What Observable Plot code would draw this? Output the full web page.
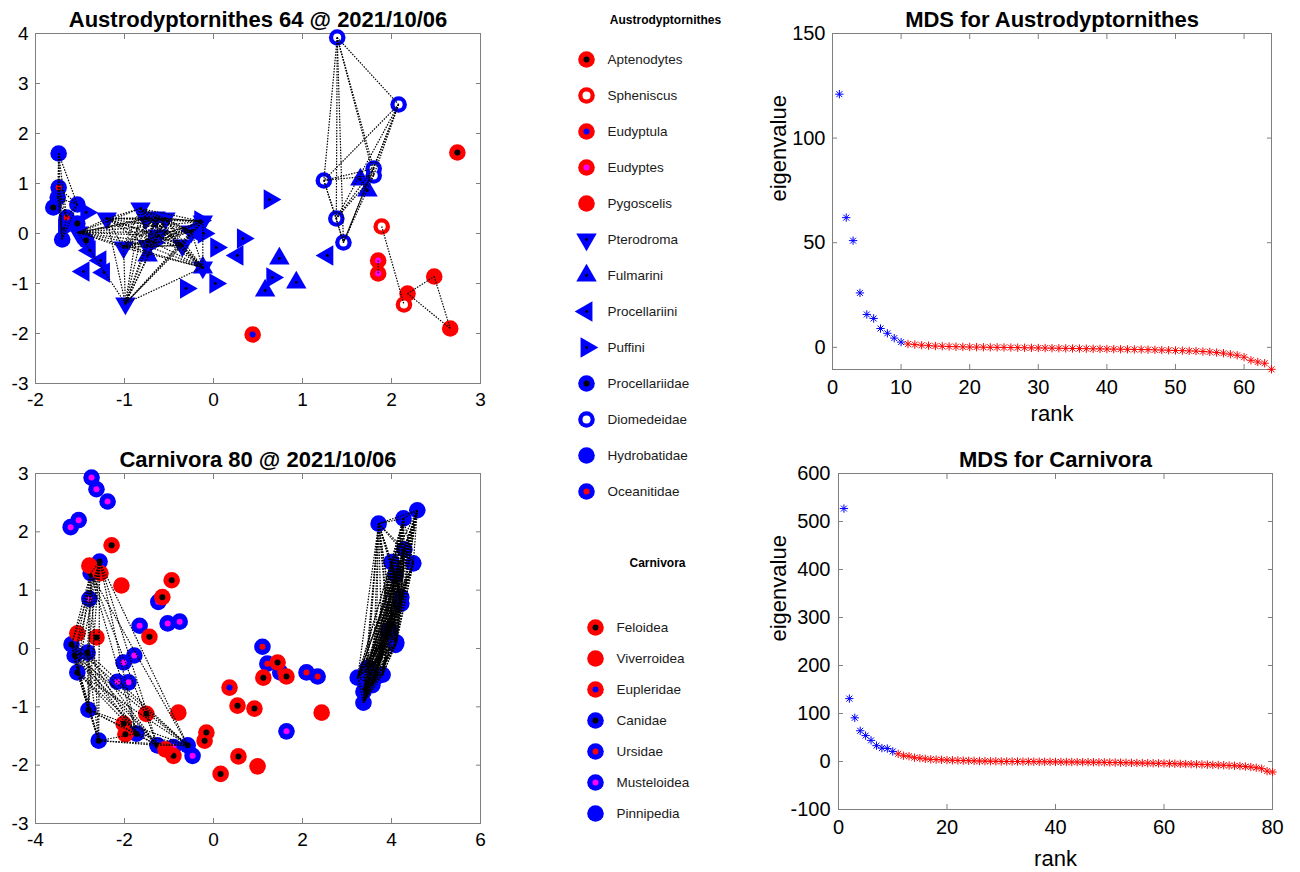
<!DOCTYPE html>
<html><head><meta charset="utf-8">
<script src="https://cdn.jsdelivr.net/npm/d3@7"></script>
<script src="https://cdn.jsdelivr.net/npm/@observablehq/plot@0.6"></script>
<style>
body{margin:0;background:#fff;}
#root{position:relative;width:1300px;height:872px;overflow:hidden;background:#fff;}
#root svg{position:absolute;}
</style></head><body><div id="root"></div>
<script>
// ---------------- DATA ----------------
const birdTaxa = ["Aptenodytes","Spheniscus","Eudyptula","Eudyptes","Pygoscelis","Pterodroma","Fulmarini","Procellariini","Puffini","Procellariidae","Diomedeidae","Hydrobatidae","Oceanitidae"];
const carnTaxa = ["Feloidea","Viverroidea","Eupleridae","Canidae","Ursidae","Musteloidea","Pinnipedia"];

const birdX = [2.74,1.89,2.14,0.44,1.85,1.85,2.18,2.48,2.66,
  1.39,2.08,1.24,1.80,1.80,1.38,1.46,
  1.65,1.73,0.74,0.58,0.93,-0.74,-0.12,
  -1.74,-1.75,-1.70,-1.53,
  -1.74,-1.65,
  -1.80,-1.53,-1.43,
  -1.39,-1.27,-1.46,-1.23,0.27,1.28,-0.24,
  0.63,0.33,0.66,-0.31,0.02,0.03,-0.15,-0.11,-1.43,-1.68,-0.67,
  -1.20,-0.82,-0.76,-0.65,-0.54,-1.01,-0.35,-0.12,-0.99,-0.74,-0.62,-0.25,-1.52,-0.12];
const birdY = [1.62,0.14,-1.42,-2.02,-0.54,-0.80,-1.20,-0.86,-1.90,
  3.92,2.58,1.06,1.30,1.16,0.30,-0.18,
  1.08,0.86,-0.50,-1.14,-0.98,-0.44,-0.68,
  1.60,0.72,-0.12,0.58,
  0.92,0.32,
  0.52,0.20,-0.14,
  -0.34,-0.54,-0.76,-0.78,-0.44,-0.44,0.06,
  0.68,-0.10,-0.88,-1.10,-1.00,-0.28,0.26,0.00,0.42,0.10,-0.18,
  0.30,0.50,0.30,0.32,0.30,-0.28,-0.24,-0.68,-1.40,-0.25,-0.04,0.04,0.02,0.24];
const birdTaxon = ["Aptenodytes","Spheniscus","Spheniscus","Eudyptula","Eudyptes","Eudyptes","Pygoscelis","Pygoscelis","Pygoscelis",
  "Diomedeidae","Diomedeidae","Diomedeidae","Diomedeidae","Diomedeidae","Diomedeidae","Diomedeidae",
  "Fulmarini","Fulmarini","Fulmarini","Fulmarini","Fulmarini","Fulmarini","Fulmarini",
  "Hydrobatidae","Hydrobatidae","Hydrobatidae","Hydrobatidae",
  "Oceanitidae","Oceanitidae",
  "Procellariidae","Procellariidae","Procellariidae",
  "Procellariini","Procellariini","Procellariini","Procellariini","Procellariini","Procellariini","Procellariini",
  "Puffini","Puffini","Puffini","Puffini","Puffini","Puffini","Puffini","Puffini","Puffini","Puffini","Puffini",
  "Pterodroma","Pterodroma","Pterodroma","Pterodroma","Pterodroma","Pterodroma","Pterodroma","Pterodroma","Pterodroma","Pterodroma","Pterodroma","Pterodroma","Pterodroma","Pterodroma"];
const birdLink = [0,1,1,0,2,2,3,3,3,
  4,4,4,4,4,4,4,
  5,5,0,0,0,0,0,
  6,6,6,6,
  6,6,
  0,0,0,
  0,0,0,0,0,0,0,
  0,0,0,0,0,0,0,0,0,0,0,
  7,7,7,7,7,7,7,7,7,7,7,7,7,7];

const carnX = [4.58,4.27,3.71,4.29,4.00,4.49,4.09,4.22,4.22,3.96,4.11,4.09,3.93,3.24,3.46,3.80,3.57,3.37,3.37,3.64,
  -2.56,-2.76,-3.19,-3.12,-2.83,-3.06,-2.81,-1.73,-2.58,-1.26,-0.58,
  1.10,1.21,1.50,2.09,2.34,
  -2.74,-2.63,-2.38,-3.21,-3.03,-1.24,-2.79,-1.66,-1.03,-0.76,-2.02,-1.78,-2.16,-1.91,-0.90,-0.47,1.64,
  -2.29,-0.94,-1.15,-2.63,-1.44,-2.02,-1.98,-1.51,-0.90,-0.16,-0.20,0.16,0.54,0.92,0.56,1.44,1.12,1.64,
  -2.79,-2.54,-2.07,-3.06,-0.79,-1.08,0.99,2.43,
  0.36];
const carnY = [2.37,2.23,2.14,1.70,1.48,1.46,1.27,0.88,0.77,0.31,0.10,0.06,0.28,-0.50,-0.33,-0.45,-0.63,-0.74,-0.93,-0.50,
  1.49,1.29,0.07,-0.12,-0.07,-0.41,-1.05,-1.46,-1.58,-1.66,-1.66,
  0.03,-0.26,-0.41,-0.41,-0.48,
  2.93,2.73,2.52,2.08,2.20,0.80,0.85,0.39,0.43,0.46,-0.24,-0.12,-0.57,-0.58,-1.69,-1.84,-1.42,
  1.77,1.17,0.88,0.19,0.20,-1.29,-1.47,-1.12,-1.84,-1.44,-1.58,-2.15,-0.98,-1.03,-1.85,-0.24,-0.50,-0.48,
  1.42,1.29,1.08,0.26,-1.10,-1.73,-2.02,-1.10,
  -0.67];
const carnTaxon = ["Pinnipedia","Pinnipedia","Pinnipedia","Pinnipedia","Pinnipedia","Pinnipedia","Pinnipedia","Pinnipedia","Pinnipedia","Pinnipedia","Pinnipedia","Pinnipedia","Pinnipedia","Pinnipedia","Pinnipedia","Pinnipedia","Pinnipedia","Pinnipedia","Pinnipedia","Pinnipedia",
  "Canidae","Canidae","Canidae","Canidae","Canidae","Canidae","Canidae","Canidae","Canidae","Canidae","Canidae",
  "Ursidae","Ursidae","Ursidae","Ursidae","Ursidae",
  "Musteloidea","Musteloidea","Musteloidea","Musteloidea","Musteloidea","Musteloidea","Musteloidea","Musteloidea","Musteloidea","Musteloidea","Musteloidea","Musteloidea","Musteloidea","Musteloidea","Musteloidea","Musteloidea","Musteloidea",
  "Feloidea","Feloidea","Feloidea","Feloidea","Feloidea","Feloidea","Feloidea","Feloidea","Feloidea","Feloidea","Feloidea","Feloidea","Feloidea","Feloidea","Feloidea","Feloidea","Feloidea","Feloidea",
  "Viverroidea","Viverroidea","Viverroidea","Viverroidea","Viverroidea","Viverroidea","Viverroidea","Viverroidea",
  "Eupleridae"];
const carnLink = [1,1,1,1,1,1,1,1,1,1,1,1,1,1,1,1,1,1,1,1,
  2,2,2,2,2,2,2,2,2,2,2,
  0,0,0,0,0,
  0,0,0,0,0,0,0,0,0,0,0,0,0,0,0,0,0,
  0,0,0,0,0,0,0,0,0,0,0,0,0,0,0,0,0,0,
  0,0,0,0,0,0,0,0,
  0];

const austroEig = [121,62,51,26,15.7,13.8,9,6.7,4.4,2.5,
  1.6,1.3,1.0,0.8,0.6,0.5,0.4,0.3,0.2,0.15,
  0.1,0.05,0,0,-0.05,-0.1,-0.15,-0.2,-0.25,-0.3,
  -0.35,-0.4,-0.45,-0.5,-0.55,-0.6,-0.65,-0.7,-0.75,-0.8,
  -0.85,-0.9,-0.95,-1.0,-1.05,-1.1,-1.2,-1.3,-1.4,-1.5,
  -1.6,-1.7,-1.8,-2.0,-2.2,-2.5,-2.8,-3.3,-3.8,-4.7,
  -6.2,-7.0,-7.6,-10.5];
const carnEig = [527,131,91,64,54,44,33,28,27,21,
  16,12,11,8,7,5.5,4.5,4,3.5,3,
  2.6,2.2,1.9,1.6,1.3,1,0.8,0.6,0.4,0.2,
  0.1,0,-0.1,-0.2,-0.3,-0.4,-0.5,-0.6,-0.7,-0.8,
  -0.9,-1.0,-1.1,-1.2,-1.3,-1.4,-1.5,-1.6,-1.8,-2.0,
  -2.2,-2.4,-2.6,-2.8,-3.0,-3.2,-3.4,-3.6,-3.8,-4.0,
  -4.3,-4.6,-4.9,-5.2,-5.5,-5.8,-6.2,-6.6,-7.0,-7.4,
  -7.8,-8.3,-8.9,-9.6,-10.5,-11.6,-13,-15,-20,-22];

const birdXTicks = [-2,-1,0,1,2,3], birdYTicks = [-3,-2,-1,0,1,2,3,4];
const carnXTicks = [-4,-2,0,2,4,6], carnYTicks = [-3,-2,-1,0,1,2,3];
const austroRankTicks = [0,10,20,30,40,50,60], austroEigTicks = [0,50,100,150];
const carnRankTicks = [0,20,40,60,80], carnEigTicks = [-100,0,100,200,300,400,500,600];

// ---------------- STYLES ----------------
const FONT = '"Liberation Sans", Arial, Helvetica, sans-serif';
const BLUE = "#0000ff", RED = "#ff0000", MAG = "#ff00ff", AXIS = "#7f7f7f";
const markStyle = {
  Aptenodytes:   {symbol:"circle", rotate:0, edge:RED, core:"#000", r:8.3, rc:3},
  Spheniscus:    {symbol:"circle", rotate:0, edge:RED, core:"#fff", r:8.3, rc:4},
  Eudyptula:     {symbol:"circle", rotate:0, edge:RED, core:BLUE, r:8.3, rc:3},
  Eudyptes:      {symbol:"circle", rotate:0, edge:RED, core:MAG, r:8.3, rc:3},
  Pygoscelis:    {symbol:"circle", rotate:0, edge:RED, core:null, r:8.3},
  Pterodroma:    {symbol:"triangle", rotate:180, edge:BLUE, core:"#000", r:7.6, rc:1.4},
  Fulmarini:     {symbol:"triangle", rotate:0, edge:BLUE, core:"#000", r:7.6, rc:1.4},
  Procellariini: {symbol:"triangle", rotate:-90, edge:BLUE, core:"#000", r:7.6, rc:1.4},
  Puffini:       {symbol:"triangle", rotate:90, edge:BLUE, core:"#000", r:7.6, rc:1.4},
  Procellariidae:{symbol:"circle", rotate:0, edge:BLUE, core:"#000", r:8.3, rc:3},
  Diomedeidae:   {symbol:"circle", rotate:0, edge:BLUE, core:"#fff", r:8.3, rc:4},
  Hydrobatidae:  {symbol:"circle", rotate:0, edge:BLUE, core:null, r:8.3},
  Oceanitidae:   {symbol:"circle", rotate:0, edge:BLUE, core:RED, r:8.3, rc:3},
  Feloidea:      {symbol:"circle", rotate:0, edge:RED, core:"#000", r:8.3, rc:3},
  Viverroidea:   {symbol:"circle", rotate:0, edge:RED, core:null, r:8.3},
  Eupleridae:    {symbol:"circle", rotate:0, edge:RED, core:BLUE, r:8.3, rc:3},
  Canidae:       {symbol:"circle", rotate:0, edge:BLUE, core:"#000", r:8.3, rc:3},
  Ursidae:       {symbol:"circle", rotate:0, edge:BLUE, core:RED, r:8.3, rc:3},
  Musteloidea:   {symbol:"circle", rotate:0, edge:BLUE, core:MAG, r:8.3, rc:3},
  Pinnipedia:    {symbol:"circle", rotate:0, edge:BLUE, core:null, r:8.3}
};

// ---------------- HELPERS ----------------
const root = document.getElementById("root");
function place(svg, left, top) { svg.style.left = left + "px"; svg.style.top = top + "px"; root.appendChild(svg); }
function makeRows(xs, ys, taxa, links) { return xs.map((x, i) => ({x, y: ys[i], taxon: taxa[i], link: links[i]})); }
function cliqueEdges(data) {
  const out = [];
  for (let i = 0; i < data.length; i++)
    for (let j = i + 1; j < data.length; j++)
      if (data[i].link && data[i].link === data[j].link)
        out.push({x1: data[i].x, y1: data[i].y, x2: data[j].x, y2: data[j].y});
  return out;
}
function markerMarks(data, taxa, opts = {}) {
  return taxa.flatMap(t => {
    const s = markStyle[t];
    const sub = data.filter(d => d.taxon === t);
    const m = [Plot.dot(sub, {...opts, symbol: s.symbol, rotate: s.rotate, r: s.r, fill: s.edge, stroke: "none"})];
    if (s.core) m.push(Plot.dot(sub, {...opts, symbol: "circle", r: s.rc, fill: s.core, stroke: "none"}));
    return m;
  });
}
function boxAxes(xticks, yticks, fontSize, padX, padY) {
  const c = {tickSize: -5, stroke: AXIS, fill: "#000", fontSize, label: null};
  return [
    Plot.frame({stroke: AXIS}),
    Plot.axisX(xticks, {...c, anchor: "bottom", tickPadding: padX, tickFormat: d => String(d)}),
    Plot.axisX(xticks, {...c, anchor: "top", tickFormat: () => ""}),
    Plot.axisY(yticks, {...c, anchor: "left", tickPadding: padY, tickFormat: d => String(d)}),
    Plot.axisY(yticks, {...c, anchor: "right", tickFormat: () => ""})
  ];
}
function title(text, size) {
  return Plot.text([text], {frameAnchor: "top", lineAnchor: "middle", dy: -14, text: d => d, fontWeight: "bold", fontSize: size, fill: "#000"});
}

// ---------------- SCATTER PLOTS ----------------
function scatter({rows, order, xDomain, yDomain, xTicks, yTicks, label, width, height, margin}) {
  return Plot.plot({
    width, height, ...margin,
    style: {fontFamily: FONT, background: "transparent", overflow: "visible"},
    x: {domain: xDomain}, y: {domain: yDomain},
    marks: [
      ...boxAxes(xTicks, yTicks, 19, 14, 12),
      ...markerMarks(rows, order, {x: "x", y: "y"}),
      Plot.link(cliqueEdges(rows), {x1: "x1", y1: "y1", x2: "x2", y2: "y2", stroke: "#000", strokeWidth: 1.2, strokeDasharray: "1.5,1.3"}),
      title(label, 22)
    ]
  });
}

const birdRows = makeRows(birdX, birdY, birdTaxon, birdLink);
place(scatter({rows: birdRows,
  order: ["Pterodroma","Fulmarini","Procellariini","Puffini","Hydrobatidae","Procellariidae","Oceanitidae","Diomedeidae","Pygoscelis","Spheniscus","Eudyptes","Eudyptula","Aptenodytes"],
  xDomain: [-2, 3], yDomain: [-3, 4], xTicks: birdXTicks, yTicks: birdYTicks,
  label: "Austrodyptornithes 64 @ 2021/10/06", width: 500, height: 420,
  margin: {marginLeft: 35, marginRight: 20, marginTop: 33, marginBottom: 37}}), 0, 0);

const carnRows = makeRows(carnX, carnY, carnTaxon, carnLink);
place(scatter({rows: carnRows,
  order: ["Pinnipedia","Canidae","Ursidae","Musteloidea","Feloidea","Viverroidea","Eupleridae"],
  xDomain: [-4, 6], yDomain: [-3, 3], xTicks: carnXTicks, yTicks: carnYTicks,
  label: "Carnivora 80 @ 2021/10/06", width: 500, height: 442,
  margin: {marginLeft: 35, marginRight: 20, marginTop: 43, marginBottom: 49}}), 0, 430);

// ---------------- LEGENDS ----------------
function legend({taxa, heading, width, height, yRange, markerX, labelX, headX, headY}) {
  const data = taxa.map(t => ({taxon: t}));
  return Plot.plot({
    width, height, marginLeft: 0, marginRight: 0, marginTop: 0, marginBottom: 0,
    style: {fontFamily: FONT, background: "transparent", overflow: "visible"},
    y: {type: "point", domain: taxa, range: yRange, padding: 0, axis: null},
    marks: [
      ...markerMarks(data, taxa, {y: "taxon", frameAnchor: "left", dx: markerX}),
      Plot.text(data, {y: "taxon", text: "taxon", frameAnchor: "left", dx: labelX, textAnchor: "start", lineAnchor: "middle", fontSize: 13.5, fill: "#1a1a1a"}),
      Plot.text([heading], {text: d => d, frameAnchor: "top-left", lineAnchor: "middle", dx: headX, dy: headY, textAnchor: "middle", fontWeight: "bold", fontSize: 12, fill: "#000"})
    ]
  });
}
place(legend({taxa: birdTaxa, heading: "Austrodyptornithes", width: 200, height: 520,
  yRange: [55, 495], markerX: 26, labelX: 47, headX: 105, headY: 20}), 560, 0);
place(legend({taxa: carnTaxa, heading: "Carnivora", width: 200, height: 340,
  yRange: [105, 294], markerX: 35, labelX: 56, headX: 97, headY: 43}), 560, 520);

// ---------------- EIGENVALUE PLOTS ----------------
function eigPlot({vals, xDomain, yDomain, xTicks, yTicks, label, width, height, margin, padX, padY, rankDy, eigDx}) {
  const data = vals.map((v, i) => ({rank: i + 1, value: v}));
  const lead = data.slice(0, 10), rest = data.slice(10);
  const star = (d, color) => ["plus", "times"].map(sym =>
    Plot.dot(d, {x: "rank", y: "value", symbol: sym, r: 2.8, stroke: color, strokeWidth: 1}));
  return Plot.plot({
    width, height, ...margin,
    style: {fontFamily: FONT, background: "transparent", overflow: "visible"},
    x: {domain: xDomain}, y: {domain: yDomain},
    marks: [
      ...boxAxes(xTicks, yTicks, 20, padX, padY),
      ...star(rest, RED),
      ...star(lead, BLUE),
      title(label, 22),
      Plot.text(["rank"], {text: d => d, frameAnchor: "bottom", lineAnchor: "middle", dy: rankDy, fontSize: 22, fill: "#000"}),
      Plot.text(["eigenvalue"], {text: d => d, frameAnchor: "left", lineAnchor: "middle", dx: eigDx, rotate: -90, fontSize: 22, fill: "#000"})
    ]
  });
}
place(eigPlot({vals: austroEig, xDomain: [0, 64], yDomain: [-10.6, 150], xTicks: austroRankTicks, yTicks: austroEigTicks,
  label: "MDS for Austrodyptornithes", width: 530, height: 430,
  margin: {marginLeft: 62, marginRight: 29, marginTop: 33, marginBottom: 61},
  padX: 15, padY: 12, rankDy: 44, eigDx: -54}), 770, 0);
place(eigPlot({vals: carnEig, xDomain: [0, 80], yDomain: [-100, 600], xTicks: carnRankTicks, yTicks: carnEigTicks,
  label: "MDS for Carnivora", width: 530, height: 442,
  margin: {marginLeft: 68, marginRight: 28, marginTop: 43, marginBottom: 63},
  padX: 15, padY: 13, rankDy: 49, eigDx: -60}), 770, 430);
</script></body></html>
